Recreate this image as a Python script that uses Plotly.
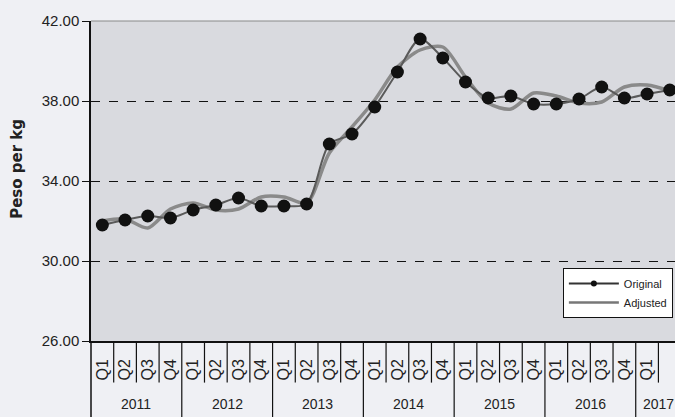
import plotly.graph_objects as go

years = ["2011"] * 4 + ["2012"] * 4 + ["2013"] * 4 + ["2014"] * 4 + ["2015"] * 4 + ["2016"] * 4 + ["2017"] * 2
quarters = ["Q1", "Q2", "Q3", "Q4"] * 6 + ["Q1", "Q2"]
original = [31.8, 32.05, 32.25, 32.15, 32.55, 32.8, 33.15, 32.75, 32.75, 32.85, 35.85, 36.35, 37.7,
            39.45, 41.1, 40.15, 38.95, 38.15, 38.25, 37.85, 37.85, 38.1, 38.7, 38.15, 38.35, 38.55]
adjusted = [32.0, 32.1, 31.65, 32.6, 32.9, 32.55, 32.6, 33.2, 33.2, 32.9, 35.4, 36.7, 38.05,
            39.7, 40.55, 40.7, 39.2, 37.9, 37.6, 38.4, 38.25, 37.9, 37.95, 38.7, 38.8, 38.5]
y_ticks = [26, 30, 34, 38, 42]

idx = list(range(len(quarters)))
FONT = "Liberation Sans, Arial, sans-serif"

fig = go.Figure()
fig.add_trace(go.Scatter(x=idx, y=adjusted, mode="lines", name="Adjusted",
                         line=dict(color="#8a8a8a", width=3.5, shape="spline", smoothing=0.8),
                         showlegend=False))
fig.add_trace(go.Scatter(x=idx, y=original, mode="lines+markers", name="Original",
                         line=dict(color="#5a5a5a", width=2, shape="spline", smoothing=0.8),
                         marker=dict(color="#111111", size=13),
                         showlegend=False))
# legend samples
fig.add_trace(go.Scatter(x=[None], y=[None], mode="lines+markers", name="Original",
                         line=dict(color="#333333", width=2), marker=dict(color="#111111", size=6)))
fig.add_trace(go.Scatter(x=[None], y=[None], mode="lines", name="Adjusted",
                         line=dict(color="#777777", width=2.5)))

shapes = []
for i in idx:
    if i == 0:
        continue
    if years[i] != years[i - 1]:
        shapes.append(dict(type="line", xref="x", yref="paper", x0=i - 0.5, x1=i - 0.5,
                           y0=0, y1=-0.24, line=dict(color="#111111", width=1.2)))
    else:
        shapes.append(dict(type="line", xref="x", yref="paper", x0=i - 0.5, x1=i - 0.5,
                           y0=0, y1=-0.13, line=dict(color="#111111", width=1.2)))
shapes.append(dict(type="line", xref="paper", yref="paper", x0=0, x1=0, y0=0, y1=-0.24,
                   line=dict(color="#111111", width=1.5)))
shapes.append(dict(type="line", xref="paper", yref="paper", x0=0, x1=1, y0=1, y1=1,
                   line=dict(color="#8a8a8a", width=1.2)))

annotations = []
seen = []
for y in years:
    if y not in seen:
        seen.append(y)
for y in seen:
    pos = [i for i in idx if years[i] == y]
    annotations.append(dict(x=sum(pos) / len(pos), y=-0.197, xref="x", yref="paper",
                            text=y, showarrow=False, yanchor="middle",
                            font=dict(family=FONT, size=14, color="#222222")))
annotations.append(dict(x=-0.127, y=0.5375, xref="paper", yref="paper", text="<b>Peso per kg</b>",
                        textangle=-90, showarrow=False, xanchor="center",
                        font=dict(family="DejaVu Sans, Liberation Sans, sans-serif", size=15, color="#222222")))

fig.update_layout(
    width=675, height=417,
    margin=dict(l=91, r=0, t=21, b=76, autoexpand=False),
    paper_bgcolor="#eff0f4",
    plot_bgcolor="#d9dadf",
    shapes=shapes,
    annotations=annotations,
    showlegend=True,
    legend=dict(x=0.808, y=0.228, xanchor="left", yanchor="top",
                bgcolor="#ffffff", bordercolor="#111111", borderwidth=1,
                font=dict(family=FONT, size=11, color="#222222"),
                tracegroupgap=6, itemwidth=50),
    xaxis=dict(range=[-0.5, 25.23], tickvals=idx, ticktext=quarters, tickangle=-90,
               tickfont=dict(family=FONT, size=16, color="#222222"),
               ticks="", ticklabelstandoff=10, showgrid=False, zeroline=False,
               showline=True, linecolor="#111111", linewidth=1.5, automargin=False),
    yaxis=dict(range=[26, 42], tickvals=y_ticks, tickformat=".2f",
               tickfont=dict(family=FONT, size=15, color="#222222"),
               ticks="outside", ticklen=7, tickcolor="#111111",
               showline=True, linecolor="#111111", linewidth=1.5,
               showgrid=True, gridcolor="#111111", griddash="dash", gridwidth=1,
               zeroline=False, automargin=False),
)

fig.write_html("out.html", config={"displayModeBar": False},
               post_script="document.body.style.margin='0px';document.body.style.overflow='hidden';")
